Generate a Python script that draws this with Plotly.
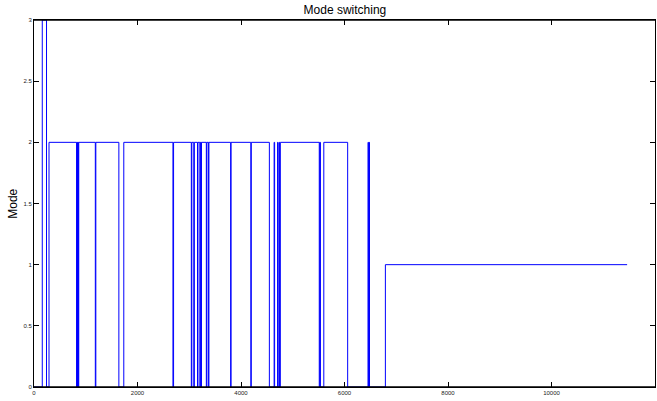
import plotly.graph_objects as go

# Switching times (sample index) and the mode entered at each time
switch_times = [0, 160, 242, 290, 823, 830, 840, 848, 858, 865, 1185, 1195,
                1640, 1735, 2685, 2697, 3040, 3050, 3088, 3098, 3160, 3168,
                3205, 3215, 3228, 3236, 3330, 3340, 3370, 3380, 3800, 3808,
                4190, 4198, 4548, 4640, 4650, 4706, 4715, 4735, 4745, 4760,
                5512, 5522, 5535, 5600, 6061, 6455, 6462, 6475, 6483, 6790,
                11461]
modes = [0, 3, 0, 2, 0, 2, 0, 2, 0, 2, 0, 2,
         0, 2, 0, 2, 0, 2, 0, 2, 0, 2,
         0, 2, 0, 2, 0, 2, 0, 2, 0, 2,
         0, 2, 0, 2, 0, 2, 0, 2, 0, 2,
         0, 2, 0, 2, 0, 2, 0, 2, 0, 1,
         1]

x_ticks = [0, 2000, 4000, 6000, 8000, 10000, 12000]
y_ticks = [0, 0.5, 1, 1.5, 2, 2.5, 3]

fig = go.Figure()
fig.add_trace(go.Scatter(x=switch_times, y=modes, mode="lines",
                         line=dict(color="#0000ff", width=1, shape="hv"),
                         showlegend=False, hoverinfo="skip"))

axis_common = dict(showgrid=False, zeroline=False, showline=True, linecolor="black",
                   linewidth=1, mirror="ticks", ticks="inside", ticklen=5,
                   tickcolor="black", tickwidth=1, layer="above traces",
                   tickfont=dict(family="Liberation Sans, Arial, sans-serif", size=6, color="#222"))

fig.update_xaxes(range=[0, 12000], tickvals=x_ticks,
                 ticktext=[str(v) for v in x_ticks], **axis_common)
fig.update_yaxes(range=[0, 3], tickvals=y_ticks,
                 ticktext=[("%g" % v) for v in y_ticks], **axis_common)

# frame lines drawn over the trace so that mode-0 / mode-3 levels sit under the box
for yy in (0, 1):
    fig.add_shape(type="line", xref="paper", yref="paper", x0=0, x1=1, y0=yy, y1=yy,
                  line=dict(color="black", width=1.5), layer="above")

fig.update_layout(
    width=657, height=401,
    margin=dict(l=34, r=2, t=20, b=14),
    paper_bgcolor="white", plot_bgcolor="white",
    title=dict(text="Mode switching", x=0.525, xanchor="center", y=0.975, yanchor="middle",
               font=dict(family="Liberation Sans, Arial, sans-serif", size=12, color="black")),
    annotations=[dict(text="Mode", xref="paper", yref="paper", x=-0.035, y=0.5,
                      xanchor="center", yanchor="middle", textangle=-90, showarrow=False,
                      font=dict(family="Liberation Sans, Arial, sans-serif", size=12, color="black"))],
)

fig.write_html("out.html")
